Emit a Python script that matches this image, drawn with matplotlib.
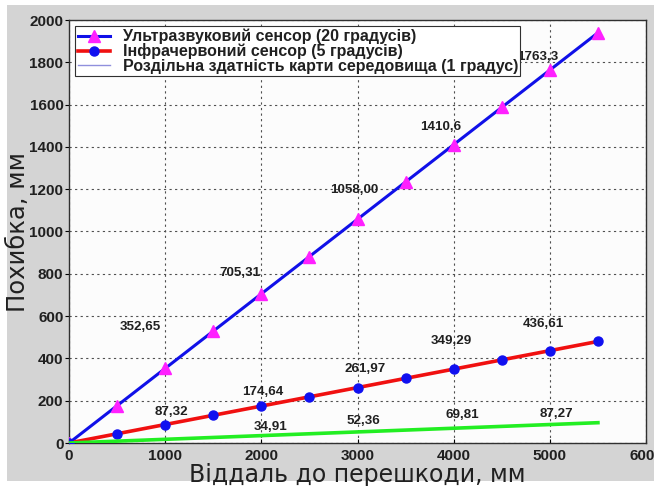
import matplotlib
matplotlib.use("Agg")
import matplotlib.pyplot as plt
from matplotlib.patches import Rectangle
from matplotlib.lines import Line2D

plt.rcParams['font.family'] = ['Liberation Sans', 'DejaVu Sans']

# Distance to obstacle, mm
distance = [0, 500, 1000, 1500, 2000, 2500, 3000, 3500, 4000, 4500, 5000, 5500]

# Error of the ultrasonic sensor (20 degree beam), mm
ultrasonic = [0, 176.33, 352.65, 528.98, 705.31, 881.63, 1058.00, 1234.29,
              1410.6, 1586.94, 1763.3, 1939.6]
# Error of the infrared sensor (5 degree beam), mm
infrared = [0, 43.66, 87.32, 130.98, 174.64, 218.30, 261.97, 305.63,
            349.29, 392.95, 436.61, 480.27]
# Map resolution (1 degree), mm
map_res = [0, 8.73, 17.45, 26.18, 34.91, 43.63, 52.36, 61.08,
           69.81, 78.54, 87.27, 95.99]

# Annotated points: (index into distance, label text, label centre)
us_labels = [(2, "352,65", (740, 548)), (4, "705,31", (1780, 804)),
             (6, "1058,00", (2966, 1196)), (8, "1410,6", (3861, 1494)),
             (10, "1763,3", (4870, 1825))]
ir_labels = [(2, "87,32", (1061, 147)), (4, "174,64", (2019, 241)),
             (6, "261,97", (3080, 350)), (8, "349,29", (3975, 482)),
             (10, "436,61", (4932, 563))]
mr_labels = [(4, "34,91", (2092, 76)), (6, "52,36", (3059, 104)),
             (8, "69,81", (4089, 132)), (10, "87,27", (5068, 137))]

x_ticks = [0, 1000, 2000, 3000, 4000, 5000, 6000]
y_ticks = [0, 200, 400, 600, 800, 1000, 1200, 1400, 1600, 1800, 2000]

W, H = 654, 486
fig = plt.figure(figsize=(W / 100, H / 100), dpi=100, facecolor='white')
# grey panel behind the axes
fig.patches.append(Rectangle((7 / W, 5 / H), (W - 7) / W, (481 - 5) / H,
                             transform=fig.transFigure, facecolor='#d4d4d4',
                             edgecolor='none', zorder=-10))

ax = fig.add_axes([69 / W, 1 - 443 / H, (646 - 69) / W, (443 - 20) / H])
ax.set_facecolor('#fcfcfc')

ax.plot(distance, ultrasonic, color='#1010e8', lw=2.2, marker='^', ms=8,
        mfc='#ff20ff', mec='#ff20ff', zorder=3)
ax.plot(distance, infrared, color='#f01010', lw=2.6, marker='o', ms=6.5,
        mfc='#1010f0', mec='#1010f0', zorder=3)
ax.plot(distance, map_res, color='#22ee22', lw=2.6, zorder=3)

for labels, series in ((us_labels, ultrasonic), (ir_labels, infrared),
                       (mr_labels, map_res)):
    for i, txt, (tx, ty) in labels:
        ax.text(tx, ty, txt, ha='center', va='center', fontsize=9.6,
                fontweight='bold', color='#202020', zorder=4)

ax.set_xlim(0, 6000)
ax.set_ylim(0, 2000)
ax.set_xticks(x_ticks)
ax.set_yticks(y_ticks)
ax.set_xticklabels([str(v) for v in x_ticks], fontsize=11, fontweight='bold',
                   color='#202020')
ax.set_yticklabels([str(v) for v in y_ticks], fontsize=11, fontweight='bold',
                   color='#202020')
ax.tick_params(axis='y', direction='out', length=3, pad=1)
ax.tick_params(axis='x', direction='in', length=3, pad=4)
ax.grid(True, linestyle=(0, (2, 3)), color='#505050', lw=0.8)
for s in ax.spines.values():
    s.set_color('#303030')
    s.set_linewidth(1.0)

axis_font = ['DejaVu Sans']
ax.set_xlabel("Віддаль до перешкоди, мм", fontsize=17, color='#202020',
              family=axis_font)
ax.xaxis.set_label_coords(0.5, -0.047)
ax.xaxis.label.set_va('top')
ax.set_ylabel("Похибка, мм", fontsize=17.5, color='#202020',
              family=axis_font)
ax.yaxis.set_label_coords(-0.068, 0.5)

handles = [
    Line2D([], [], color='#1010e8', lw=2.2, marker='^', ms=8,
           mfc='#ff20ff', mec='#ff20ff'),
    Line2D([], [], color='#f01010', lw=2.6, marker='o', ms=6.5,
           mfc='#1010f0', mec='#1010f0'),
    Line2D([], [], color='#9090dd', lw=1.0),
]
names = ["Ультразвуковий сенсор (20 градусів)",
         "Інфрачервоний сенсор (5 градусів)",
         "Роздільна здатність карти середовища (1 градус)"]
leg = ax.legend(handles, names, loc='upper left', fancybox=False,
                framealpha=1, edgecolor='#303030', borderaxespad=0.4,
                prop={'size': 11.5, 'weight': 'bold'}, handlelength=2.0,
                labelspacing=-0.05, borderpad=0.15, handletextpad=0.8)
leg.get_frame().set_linewidth(0.8)
for t in leg.get_texts():
    t.set_color('#202020')

fig.savefig("out.png", dpi=100, facecolor=fig.get_facecolor())
